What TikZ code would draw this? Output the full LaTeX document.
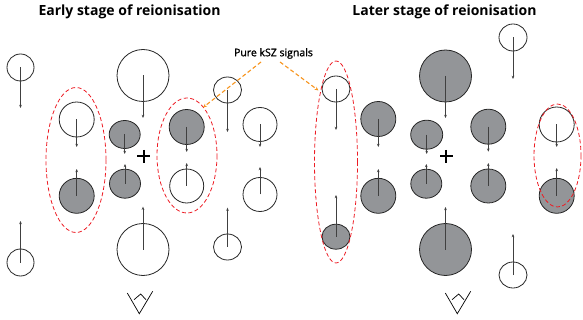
\documentclass[tikz,border=0pt]{standalone}
\usepackage{fontspec}
\setmainfont{Open Sans}
\newfontfamily\labelfont[FakeBold=1.2]{Open Sans}
\usetikzlibrary{shapes.geometric,arrows.meta}
\definecolor{ballgray}{HTML}{939598}
\definecolor{kszred}{HTML}{ED1C24}
\definecolor{kszorange}{HTML}{F7941D}
\tikzset{
  ball/.style={ellipse,draw=black!85,line width=0.8pt,inner sep=0pt,minimum width=#1},
  openball/.style={ball=#1,fill=white},
  grayball/.style={ball=#1,fill=ballgray},
  vec/.style={draw=black!75,line width=0.6pt,-{Stealth[length=3.2pt,width=2.6pt]}},
  group/.style={draw=kszred,line width=0.8pt,dash pattern=on 4pt off 2.5pt},
  pointer/.style={draw=kszorange,line width=1.1pt,dash pattern=on 4pt off 2.5pt,-{Stealth[length=4pt,width=3.5pt]}},
  title/.style={font=\bfseries\fontsize{14}{17}\selectfont,anchor=base,inner sep=0pt},
  eye/.style={draw=black,line width=0.7pt,line join=miter},
  plus/.style={draw=black,line width=2pt}
}
\begin{document}
\begin{tikzpicture}[x=1pt,y=-1pt]
\useasboundingbox (0,0) rectangle (583,320);
% titles
\node[title] (tl) at (129.5,15.5) {Early stage of reionisation};
\node[title] (tr) at (444.5,15.5) {Later stage of reionisation};
% ---------- left panel ----------
\node[openball=27pt,minimum height=27pt] (a1) at (20.5,67.5) {};
\node[openball=52pt,minimum height=52pt] (a2) at (143,75.5) {};
\node[openball=35pt,minimum height=35pt] (a3) at (76.7,119.5) {};
\node[grayball=31pt,minimum height=28pt] (a4) at (124.7,134.5) {};
\node[grayball=35pt,minimum height=35pt] (a5) at (186.7,127) {};
\node[openball=28pt,minimum height=26pt] (a6) at (227.5,90) {};
\node[openball=34pt,minimum height=34pt] (a7) at (260,124.5) {};
\node[grayball=35pt,minimum height=35pt] (a8) at (76.7,195.8) {};
\node[grayball=31pt,minimum height=29pt] (a9) at (125,183.7) {};
\node[openball=34pt,minimum height=34pt] (a10) at (186.7,186) {};
\node[openball=34pt,minimum height=34pt] (a11) at (260,194.5) {};
\node[openball=27pt,minimum height=27pt] (a12) at (20.5,262.5) {};
\node[openball=52pt,minimum height=52pt] (a13) at (143,249.5) {};
\node[openball=28pt,minimum height=26pt] (a14) at (227.5,247) {};
\coordinate (a1e) at (20.5,108);
\coordinate (a2e) at (143,118);
\coordinate (a3e) at (76.7,147);
\coordinate (a4e) at (124.7,154);
\coordinate (a5e) at (186.7,152);
\coordinate (a6e) at (227.5,132);
\coordinate (a7e) at (260,147);
\coordinate (a8e) at (76.7,169);
\coordinate (a9e) at (125,164);
\coordinate (a10e) at (186.7,163);
\coordinate (a11e) at (260,167);
\coordinate (a12e) at (20.5,221);
\coordinate (a13e) at (143,206.7);
\coordinate (a14e) at (227.5,207.7);
\foreach \i in {1,...,14} {\draw[vec] (a\i.center) -- (a\i e);}
% ---------- right panel ----------
\node[openball=28pt,minimum height=26pt] (b1) at (336,89) {};
\node[grayball=52pt,minimum height=52pt] (b2) at (445.5,76) {};
\node[grayball=35pt,minimum height=35pt] (b3) at (378.3,119) {};
\node[grayball=32pt,minimum height=29pt] (b4) at (426.7,134.7) {};
\node[grayball=35pt,minimum height=35pt] (b5) at (488.3,126.7) {};
\node[openball=28pt,minimum height=27pt] (b6) at (513,37.5) {};
\node[openball=35pt,minimum height=35pt] (b7) at (556.7,124.5) {};
\node[grayball=28pt,minimum height=25pt] (b8) at (336,236.7) {};
\node[grayball=35pt,minimum height=35pt] (b9) at (378.3,195.8) {};
\node[grayball=31pt,minimum height=29pt] (b10) at (426.3,183.7) {};
\node[grayball=35pt,minimum height=34pt] (b11) at (488.3,186) {};
\node[grayball=35pt,minimum height=35pt] (b12) at (556.7,195.8) {};
\node[grayball=52pt,minimum height=52pt] (b13) at (445.5,249.5) {};
\node[openball=28pt,minimum height=26pt] (b14) at (513,275) {};
\coordinate (b1e) at (336,130);
\coordinate (b2e) at (445.5,118);
\coordinate (b3e) at (378.3,147);
\coordinate (b4e) at (426.7,154);
\coordinate (b5e) at (488.3,151.7);
\coordinate (b6e) at (513,79);
\coordinate (b7e) at (556.7,147);
\coordinate (b8e) at (336,195);
\coordinate (b9e) at (378.3,169);
\coordinate (b10e) at (426.3,164);
\coordinate (b11e) at (488.3,163);
\coordinate (b12e) at (556.7,168);
\coordinate (b13e) at (445.5,207);
\coordinate (b14e) at (513,234);
\foreach \i in {1,...,14} {\draw[vec] (b\i.center) -- (b\i e);}
% plus signs
\draw[plus] (137.3,156.3) -- (150.1,156.3) (143.7,150) -- (143.7,162.6);
\draw[plus] (440,156.3) -- (452.8,156.3) (446.4,150) -- (446.4,162.6);
% red dashed groups
\draw[group] (76,160) ellipse [x radius=30,y radius=72.5];
\draw[group] (187,155.5) ellipse [x radius=30,y radius=57.5];
\draw[group] (336,162) ellipse [x radius=21.5,y radius=101];
\draw[group] (557.5,155.5) ellipse [x radius=23.5,y radius=51.5];
% label and pointers
\node[font=\labelfont\fontsize{10.5}{12}\selectfont,inner sep=1pt] (ksz) at (273.5,53.5) {Pure kSZ signals};
\coordinate (p1s) at (261,62);
\coordinate (p1e) at (203,107.5);
\coordinate (p2s) at (280,62);
\coordinate (p2e) at (318.5,90.5);
\draw[pointer] (p1s) -- (p1e);
\draw[pointer] (p2s) -- (p2e);
% observers
\draw[eye] (127.3,293) -- (139.3,313.7) -- (152.7,291.3) (134,299.7) -- (140.7,294) -- (146,299.7);
\draw[eye] (445.3,293) -- (457.3,313.7) -- (470.7,291.3) (452,299.7) -- (458.7,294) -- (464,299.7);
\end{tikzpicture}
\end{document}
